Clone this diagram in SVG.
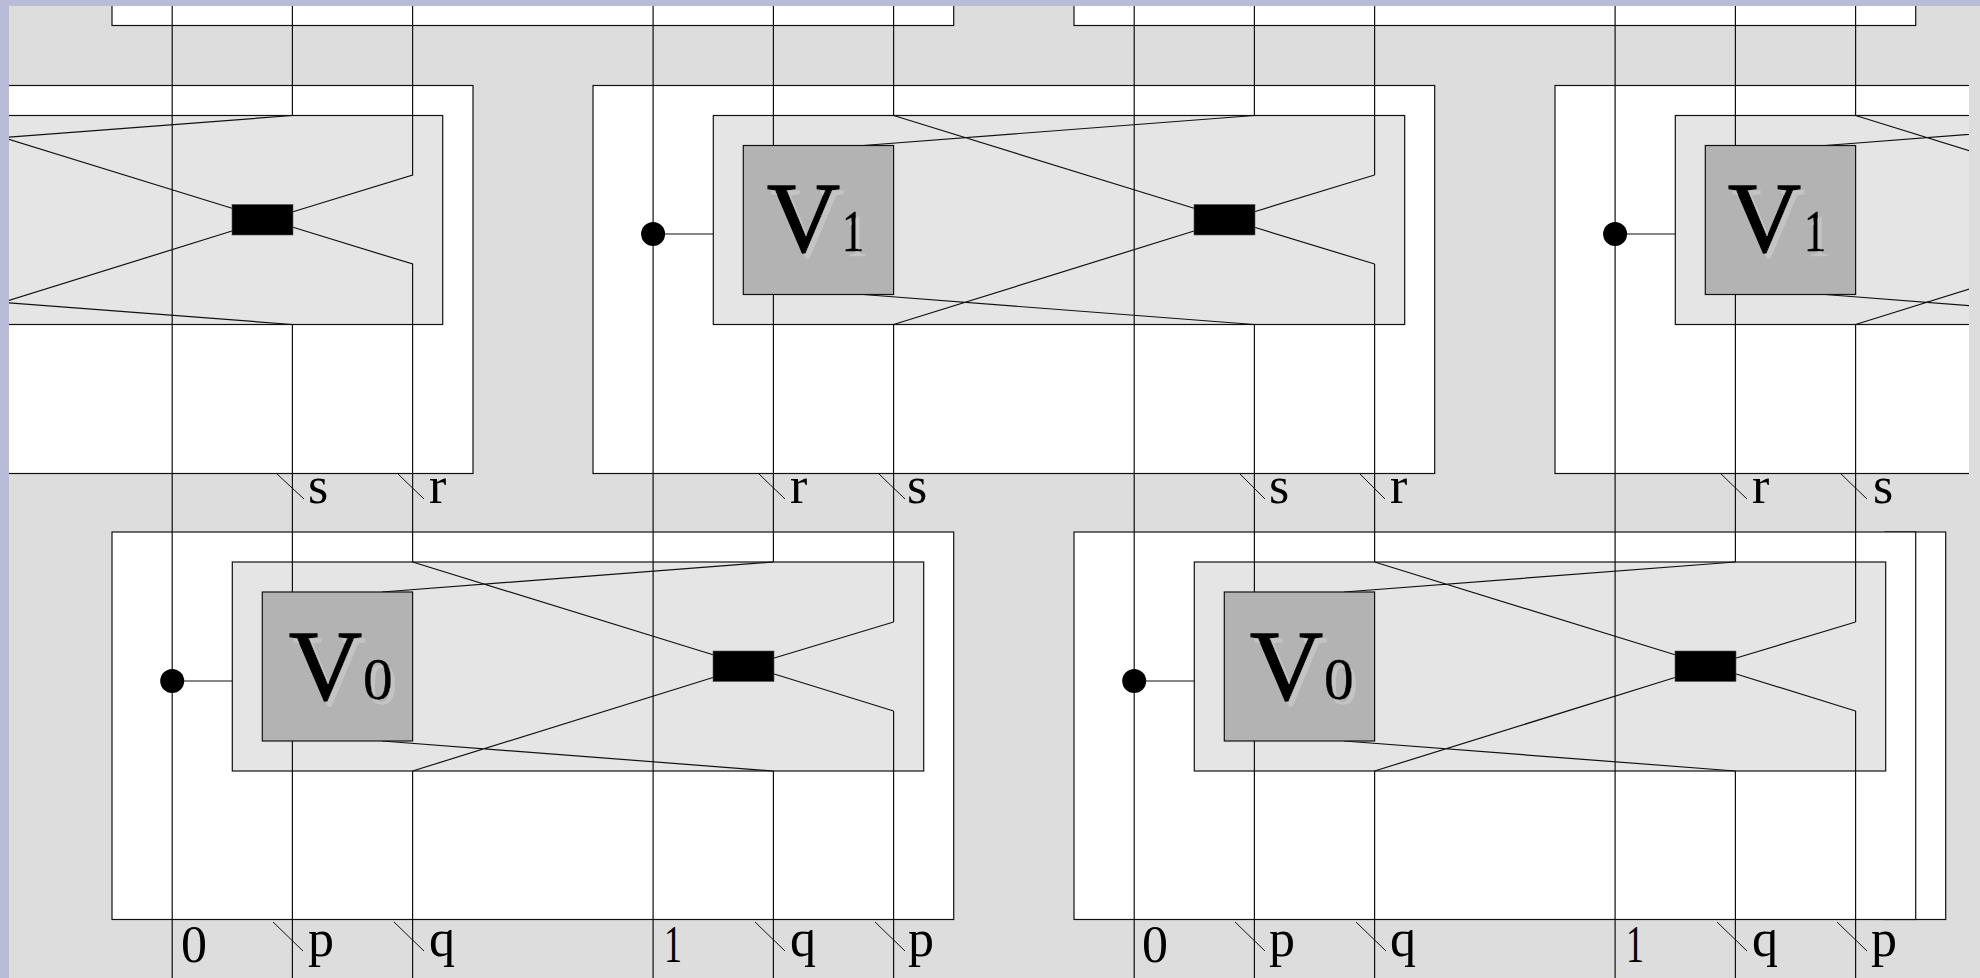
<svg xmlns="http://www.w3.org/2000/svg" width="1980" height="978" viewBox="0 0 1980 978">
<style>
.outer{fill:#fff;stroke:#111;stroke-width:1.2}
.inner{fill:#e5e5e5;stroke:#111;stroke-width:1.2}
.vbox{fill:#b3b3b3;stroke:#111;stroke-width:1.2}
.core{fill:#000;stroke:#555;stroke-width:.6}
.dot{fill:#000}
.wire{fill:none;stroke:#111;stroke-width:1.2}
.tick{fill:none;stroke:#111;stroke-width:1}
text{font-family:"Liberation Serif","Times New Roman",serif;fill:#000}
.lbl{font-size:52px}
.big{font-size:100px;stroke:#000;stroke-width:1.4}
.sub{font-size:60px;stroke:#000;stroke-width:.5}
.shadowed{filter:url(#sh)}
</style>
<defs>
<clipPath id="frame"><rect x="9" y="6" width="1960" height="972"/></clipPath>
<filter id="sh" x="-20%" y="-20%" width="140%" height="140%"><feDropShadow dx="4" dy="5" stdDeviation="0.6" flood-color="#c4c4c4"/></filter>
</defs>
<rect width="1980" height="978" fill="#b8bcd8"/>
<rect x="9" y="6" width="1971" height="972" fill="#dddddd"/>
<g clip-path="url(#frame)">
<g id="strip-left"><rect class="outer" x="112" y="-100" width="841.7" height="125.500"/></g>
<g id="strip-right"><rect class="outer" x="1074" y="-100" width="841.7" height="125.500"/></g>
<g id="block-top-1"><rect class="outer" x="-369" y="85.5" width="842" height="388"/><rect class="inner" x="-248.7" y="115.5" width="691.4" height="209"/></g>
<g id="block-top-2"><rect class="outer" x="593" y="85.5" width="841.7" height="388"/><rect class="inner" x="713.3" y="115.5" width="691.4" height="209"/></g>
<g id="block-top-3"><rect class="outer" x="1555" y="85.5" width="841.7" height="388"/><rect class="inner" x="1675.3" y="115.5" width="691.4" height="209"/></g>
<g id="block-bottom-1"><rect class="outer" x="112" y="532" width="841.7" height="387.5"/><rect class="inner" x="232.3" y="562" width="691.4" height="209"/></g>
<g id="block-bottom-2"><rect class="outer" x="1885" y="532" width="60.7" height="387.5"/><rect class="outer" x="1074" y="532" width="841.7" height="387.5"/><rect class="inner" x="1194.3" y="562" width="691.4" height="209"/></g>
<g id="connectors">
<path class="wire" d="M172.2 6V978M292.4 6V115.5M292.4 324.5V592M292.4 741V978M412.6 6V175L293 211.7M293 227.3L412.6 264V562M412.6 771V978"/>
<path class="wire" d="M653.1 6V978M773.4 6V145.5M773.4 294.5V562M773.4 771V978M893.6 6V115.5M893.6 324.5V622M893.6 711V978"/>
<path class="wire" d="M1134.2 6V978M1254.4 6V115.5M1254.4 324.5V592M1254.4 741V978M1374.6 6V175M1374.6 264V562M1374.6 771V978"/>
<path class="wire" d="M1615.1 6V978M1735.4 6V145.5M1735.4 294.5V562M1735.4 771V978M1855.6 6V115.5M1855.6 324.5V622M1855.6 711V978"/>
<path class="wire" d="M-68.4 115.5L232 208.3M-68.4 324.5L232 231M292.4 115.5L-99 145.5M292.4 324.5L-99 294.5"/>
<path class="wire" d="M893.6 115.5L1194 208.3M893.6 324.5L1194 231M1254.4 115.5L863 145.5M1254.4 324.5L863 294.5M1374.6 175L1254.4 211.7M1374.6 264L1254.4 227.3"/>
<path class="wire" d="M1855.6 115.5L2156 208.3M1855.6 324.5L2156 231M2216.4 115.5L1825 145.5M2216.4 324.5L1825 294.5"/>
<path class="wire" d="M412.6 562L713 654.8M412.6 771L713 677.5M773.4 562L382 592M773.4 771L382 741M893.6 622L773.4 658.2M893.6 711L773.4 673.8"/>
<path class="wire" d="M1374.6 562L1675 654.8M1374.6 771L1675 677.5M1735.4 562L1344 592M1735.4 771L1344 741M1855.6 622L1735.4 658.2M1855.6 711L1735.4 673.8"/>
<path class="wire" d="M653.1 234H713.3M1615.1 234H1675.3M172.2 681H232.3M1134.2 681H1194.3"/>
<path class="tick" d="M277 474L304 499M398 474L424 499M759 474L785 499M879 474L905 499M1240 474L1265 499M1360 474L1385 499M1721 474L1747 499M1841 474L1867 499"/>
<path class="tick" d="M273 922L303 951M394 922L424 951M755 922L785 951M875 922L905 951M1235 922L1265 951M1356 922L1386 951M1717 922L1747 951M1837 922L1867 951"/>
</g>
<g id="core-top-1"><rect class="core" x="232" y="204.5" width="61" height="30.5"/></g>
<g id="core-top-2"><rect class="core" x="1194" y="204.5" width="61" height="30.5"/></g>
<g id="core-bottom-1"><rect class="core" x="713" y="651" width="61" height="30.5"/></g>
<g id="core-bottom-2"><rect class="core" x="1675" y="651" width="61" height="30.5"/></g>
<g id="port-top-2"><circle class="dot" cx="653.1" cy="234" r="12"/></g>
<g id="port-top-3"><circle class="dot" cx="1615.1" cy="234" r="12"/></g>
<g id="port-bottom-1"><circle class="dot" cx="172.2" cy="681" r="12"/></g>
<g id="port-bottom-2"><circle class="dot" cx="1134.2" cy="681" r="12"/></g>
<g id="v1-a"><rect class="vbox" x="743.3" y="145.5" width="150.3" height="149"/>
<g class="shadowed"><text class="big" x="767" y="251" textLength="73" lengthAdjust="spacingAndGlyphs">V</text><text class="sub" x="842" y="251" textLength="22" lengthAdjust="spacingAndGlyphs">1</text></g></g>
<g id="v1-b"><rect class="vbox" x="1705.3" y="145.5" width="150.3" height="149"/>
<g class="shadowed"><text class="big" x="1728" y="251" textLength="73" lengthAdjust="spacingAndGlyphs">V</text><text class="sub" x="1804" y="251" textLength="22" lengthAdjust="spacingAndGlyphs">1</text></g></g>
<g id="v0-a"><rect class="vbox" x="262.3" y="592" width="150.3" height="149"/>
<g class="shadowed"><text class="big" x="289" y="699" textLength="73" lengthAdjust="spacingAndGlyphs">V</text><text class="sub" x="363" y="699">0</text></g></g>
<g id="v0-b"><rect class="vbox" x="1224.3" y="592" width="150.3" height="149"/>
<g class="shadowed"><text class="big" x="1250" y="699" textLength="73" lengthAdjust="spacingAndGlyphs">V</text><text class="sub" x="1324" y="699">0</text></g></g>
<g id="labels">
<text class="lbl" x="308" y="503">s</text><text class="lbl" x="429" y="503">r</text>
<text class="lbl" x="790" y="503">r</text><text class="lbl" x="907" y="503">s</text>
<text class="lbl" x="1269" y="503">s</text><text class="lbl" x="1390" y="503">r</text>
<text class="lbl" x="1752" y="503">r</text><text class="lbl" x="1873" y="503">s</text>
<text class="lbl" x="181" y="962">0</text><text class="lbl" x="308" y="956">p</text><text class="lbl" x="429" y="956">q</text>
<text class="lbl" x="664" y="962" textLength="18" lengthAdjust="spacingAndGlyphs">1</text><text class="lbl" x="790" y="956">q</text><text class="lbl" x="908" y="956">p</text>
<text class="lbl" x="1142" y="962">0</text><text class="lbl" x="1269" y="956">p</text><text class="lbl" x="1390" y="956">q</text>
<text class="lbl" x="1626" y="962" textLength="18" lengthAdjust="spacingAndGlyphs">1</text><text class="lbl" x="1752" y="956">q</text><text class="lbl" x="1871" y="956">p</text>
</g>
</g>
</svg>
